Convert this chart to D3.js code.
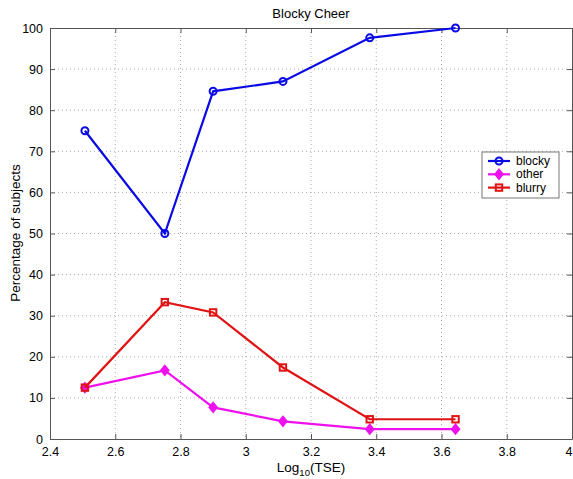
<!DOCTYPE html>
<html><head><meta charset="utf-8">
<script src="https://cdn.jsdelivr.net/npm/d3@7"></script>
<style>body{margin:0;background:#fff;}svg{display:block;font-family:"Liberation Sans",Arial,sans-serif;}</style>
</head><body>
<svg id="c" width="573" height="479"></svg>
<script>
const xValues = [2.507, 2.752, 2.900, 3.114, 3.380, 3.643];
const blocky = [75.0, 50.0, 84.6, 87.0, 97.6, 100.0];
const other = [12.5, 16.7, 7.7, 4.3, 2.4, 2.4];
const blurry = [12.5, 33.3, 30.8, 17.4, 4.8, 4.8];
const xTicks = [2.4, 2.6, 2.8, 3, 3.2, 3.4, 3.6, 3.8, 4];
const yTicks = [0, 10, 20, 30, 40, 50, 60, 70, 80, 90, 100];
const seriesNames = ["blocky", "other", "blurry"];
const seriesColors = ["#0a0ae6", "#ee11ee", "#e01414"];
const seriesMarkers = ["circle", "diamond", "square"];

const svg = d3.select("#c");
const L = 50, R = 572, T = 28, B = 439;
const x = d3.scaleLinear().domain([2.4, 4]).range([L, R]);
const y = d3.scaleLinear().domain([0, 100]).range([B, T]);

// grid
const g = svg.append("g");
g.selectAll(".vg").data(xTicks.slice(1, -1)).join("line")
  .attr("x1", d => x(d)).attr("x2", d => x(d)).attr("y1", T).attr("y2", B)
  .attr("stroke", "#aaa").attr("stroke-width", 1).attr("stroke-dasharray", "1,3");
g.selectAll(".hg").data(yTicks.slice(1, -1)).join("line")
  .attr("y1", d => y(d)).attr("y2", d => y(d)).attr("x1", L).attr("x2", R)
  .attr("stroke", "#aaa").attr("stroke-width", 1).attr("stroke-dasharray", "1,3");

// axes
const fmt = d => d3.format("")(+d.toFixed(1));
svg.append("g").attr("transform", `translate(0,${B})`)
  .call(d3.axisBottom(x).tickValues(xTicks).tickFormat(fmt).tickSizeInner(-5).tickSizeOuter(0).tickPadding(8))
  .call(a => { a.select(".domain").attr("stroke", "#555"); a.selectAll("line").attr("stroke", "#555");
    a.selectAll("text").attr("font-size", 12.5).attr("fill", "#000").attr("font-family", "Liberation Sans, Arial");
    a.selectAll(".tick text").filter(d => Math.abs(d - 4) < 1e-9).attr("text-anchor", "end").attr("x", 0); });
svg.append("g").attr("transform", `translate(0,${T})`)
  .call(d3.axisTop(x).tickValues(xTicks).tickFormat("").tickSizeInner(-5).tickSizeOuter(0))
  .call(a => { a.select(".domain").attr("stroke", "#555"); a.selectAll("line").attr("stroke", "#555"); });
svg.append("g").attr("transform", `translate(${L},0)`)
  .call(d3.axisLeft(y).tickValues(yTicks).tickSizeInner(-5).tickSizeOuter(0).tickPadding(7))
  .call(a => { a.select(".domain").attr("stroke", "#555"); a.selectAll("line").attr("stroke", "#555");
    a.selectAll("text").attr("font-size", 12.5).attr("fill", "#000").attr("font-family", "Liberation Sans, Arial"); });
svg.append("g").attr("transform", `translate(${R},0)`)
  .call(d3.axisRight(y).tickValues(yTicks).tickFormat("").tickSizeInner(-5).tickSizeOuter(0))
  .call(a => { a.select(".domain").attr("stroke", "#555"); a.selectAll("line").attr("stroke", "#555"); });

// series
const data = [blocky, other, blurry];
function marker(sel, type, color) {
  if (type === "circle") {
    sel.append("circle").attr("r", 3.5).attr("fill", "none").attr("stroke", color).attr("stroke-width", 2);
  } else if (type === "diamond") {
    sel.append("path").attr("d", "M0,-5L4,0L0,5L-4,0Z").attr("fill", color).attr("stroke", color).attr("stroke-width", 1.5);
  } else {
    sel.append("rect").attr("x", -3.2).attr("y", -3.2).attr("width", 6.4).attr("height", 6.4)
      .attr("fill", "none").attr("stroke", color).attr("stroke-width", 2);
  }
}
data.forEach((vals, i) => {
  const pts = vals.map((v, j) => [xValues[j], v]);
  svg.append("path").datum(pts)
    .attr("d", d3.line().x(d => x(d[0])).y(d => y(d[1])))
    .attr("fill", "none").attr("stroke", seriesColors[i]).attr("stroke-width", 2.2);
  svg.append("g").selectAll("g").data(pts).join("g")
    .attr("transform", d => `translate(${x(d[0])},${y(d[1])})`)
    .each(function () { marker(d3.select(this), seriesMarkers[i], seriesColors[i]); });
});

// legend
const lg = svg.append("g");
lg.append("rect").attr("x", 482).attr("y", 152).attr("width", 77).attr("height", 46)
  .attr("fill", "#fff").attr("stroke", "#777").attr("stroke-width", 1);
seriesNames.forEach((n, i) => {
  const yy = 161 + i * 13.3;
  lg.append("line").attr("x1", 488).attr("x2", 510).attr("y1", yy).attr("y2", yy)
    .attr("stroke", seriesColors[i]).attr("stroke-width", 2.2);
  const m = lg.append("g").attr("transform", `translate(499,${yy})`);
  marker(m, seriesMarkers[i], seriesColors[i]);
  lg.append("text").attr("x", 516).attr("y", yy + 4).attr("font-size", 12).text(n);
});

// title and labels
svg.append("text").attr("x", 311).attr("y", 18).attr("text-anchor", "middle").attr("font-size", 13).text("Blocky Cheer");
svg.append("text").attr("transform", "translate(20,233) rotate(-90)").attr("text-anchor", "middle")
  .attr("font-size", 13.5).text("Percentage of subjects");
const xl = svg.append("text").attr("x", 311).attr("y", 472).attr("text-anchor", "middle").attr("font-size", 13.5);
xl.append("tspan").text("Log");
xl.append("tspan").attr("font-size", 9.5).attr("dy", 4).text("10");
xl.append("tspan").attr("dy", -4).text("(TSE)");
</script>
</body></html>
